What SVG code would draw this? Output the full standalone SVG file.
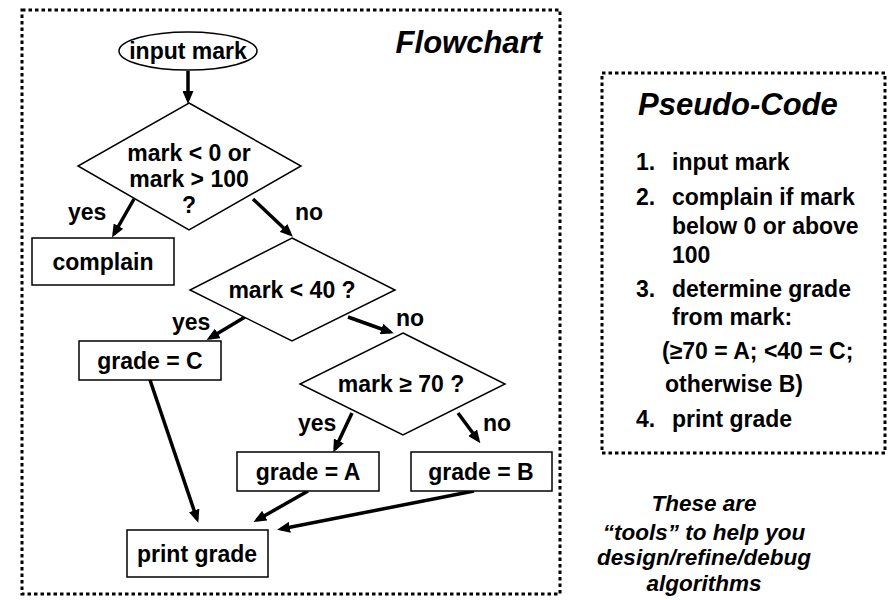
<svg xmlns="http://www.w3.org/2000/svg" width="888" height="600" viewBox="0 0 888 600">
<style>
text{font-family:"Liberation Sans",Arial,sans-serif;font-weight:bold;fill:#000}
.t{font-size:23px;text-anchor:middle}
.l{font-size:23px}
.it{font-style:italic}
.shape{fill:#fff;stroke:#000;stroke-width:1.5}
.dot{fill:none;stroke:#000;stroke-width:3;stroke-dasharray:3.5 3}
.arr{stroke:#000;stroke-width:3.5;fill:none;marker-end:url(#ah)}
</style>
<defs>
<marker id="ah" markerUnits="userSpaceOnUse" markerWidth="13" markerHeight="11" refX="9" refY="5.5" orient="auto">
<path d="M0,0 L13,5.5 L0,11 z" fill="#000"/>
</marker>
</defs>
<rect width="888" height="600" fill="#fff"/>
<g id="flowchart-frame">
<rect class="dot" x="22" y="10" width="538" height="584"/>
<text class="it" x="542" y="53" font-size="31" text-anchor="end">Flowchart</text>
</g>
<g id="connectors">
<line class="arr" x1="188" y1="71" x2="188" y2="100"/>
<line class="arr" x1="134" y1="199" x2="114" y2="234"/>
<line class="arr" x1="253" y1="199" x2="290" y2="234"/>
<line class="arr" x1="245" y1="317" x2="210" y2="338"/>
<line class="arr" x1="348" y1="317" x2="390" y2="332"/>
<line class="arr" x1="352" y1="413" x2="335" y2="449"/>
<line class="arr" x1="458" y1="413" x2="478" y2="440"/>
<line class="arr" x1="150" y1="380" x2="197" y2="519"/>
<line class="arr" x1="308" y1="491" x2="257" y2="520"/>
<line class="arr" x1="474" y1="491" x2="281" y2="529"/>
<text class="l" x="68" y="220">yes</text>
<text class="l" x="295" y="220">no</text>
<text class="l" x="172" y="330">yes</text>
<text class="l" x="396" y="326">no</text>
<text class="l" x="298" y="431">yes</text>
<text class="l" x="483" y="431">no</text>
</g>
<g id="input">
<ellipse class="shape" cx="188" cy="51" rx="69" ry="19"/>
<text class="t" x="188" y="59">input mark</text>
</g>
<g id="check-range">
<path class="shape" d="M189,103 L301,166 L189,230 L78,166 Z"/>
<text class="t" x="189" y="161">mark &lt; 0 or</text>
<text class="t" x="189" y="187">mark &gt; 100</text>
<text class="t" x="189" y="213">?</text>
</g>
<g id="complain">
<rect class="shape" x="32" y="238" width="142" height="47"/>
<text class="t" x="103" y="270">complain</text>
</g>
<g id="check-40">
<path class="shape" d="M292,238 L395,290 L292,341 L190,290 Z"/>
<text class="t" x="292" y="298">mark &lt; 40 ?</text>
</g>
<g id="grade-c">
<rect class="shape" x="79" y="341" width="142" height="39"/>
<text class="t" x="150" y="369">grade = C</text>
</g>
<g id="check-70">
<path class="shape" d="M403,333 L505,384 L403,435 L300,384 Z"/>
<text class="t" x="401" y="392">mark ≥ 70 ?</text>
</g>
<g id="grade-a">
<rect class="shape" x="237" y="452" width="142" height="39"/>
<text class="t" x="308" y="480">grade = A</text>
</g>
<g id="grade-b">
<rect class="shape" x="411" y="452" width="141" height="39"/>
<text class="t" x="481" y="480">grade = B</text>
</g>
<g id="print">
<rect class="shape" x="127" y="530" width="141" height="47"/>
<text class="t" x="197" y="562">print grade</text>
</g>
<g id="pseudo-code">
<rect class="dot" x="602" y="73" width="283" height="380"/>
<text class="it" x="638" y="115" font-size="31">Pseudo-Code</text>
<text class="l" x="636" y="170">1.</text><text class="l" x="672" y="170">input mark</text>
<text class="l" x="636" y="205">2.</text><text class="l" x="672" y="205">complain if mark</text>
<text class="l" x="672" y="234">below 0 or above</text>
<text class="l" x="672" y="263">100</text>
<text class="l" x="636" y="297">3.</text><text class="l" x="672" y="297">determine grade</text>
<text class="l" x="672" y="325">from mark:</text>
<text class="l" x="662" y="359">(≥70 = A; &lt;40 = C;</text>
<text class="l" x="665" y="392">otherwise B)</text>
<text class="l" x="636" y="427">4.</text><text class="l" x="672" y="427">print grade</text>
</g>
<g id="note">
<text class="it" x="704" y="511" font-size="22.5" text-anchor="middle">These are</text>
<text class="it" x="704" y="540" font-size="22.5" text-anchor="middle">“tools” to help you</text>
<text class="it" x="704" y="565" font-size="22.5" text-anchor="middle">design/refine/debug</text>
<text class="it" x="704" y="591" font-size="22.5" text-anchor="middle">algorithms</text>
</g>
</svg>
